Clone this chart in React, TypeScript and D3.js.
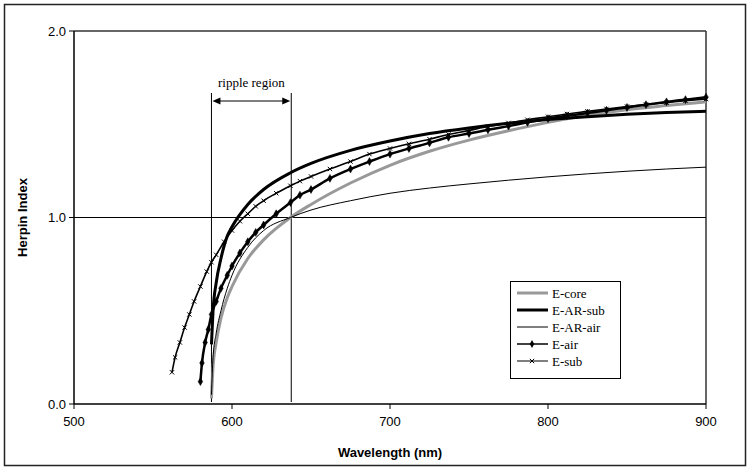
import React from 'react';
import * as d3 from 'd3';

const xTicks = [500, 600, 700, 800, 900];
const yTicks = [0, 1, 2];
const yTickLabels = ['0.0', '1.0', '2.0'];
const seriesNames = ['E-core', 'E-AR-sub', 'E-AR-air', 'E-air', 'E-sub'];

const gridWl = [587, 588, 590, 593, 597, 600, 610, 620, 637, 650, 675, 700, 725, 750, 775, 800, 825, 850, 875, 900];
const eCore = [0.03, 0.2, 0.33, 0.46, 0.57, 0.63, 0.78, 0.88, 1.0, 1.07, 1.185, 1.28, 1.355, 1.415, 1.465, 1.51, 1.548, 1.578, 1.6, 1.62];
const eArSub = [0.32, 0.5, 0.65, 0.78, 0.9, 0.95, 1.07, 1.15, 1.24, 1.29, 1.36, 1.41, 1.45, 1.48, 1.505, 1.525, 1.54, 1.553, 1.563, 1.57];
const eArAir = [0.05, 0.25, 0.38, 0.5, 0.62, 0.69, 0.84, 0.93, 1.0, 1.04, 1.09, 1.13, 1.158, 1.18, 1.2, 1.218, 1.234, 1.248, 1.26, 1.27];

const airWl = [580, 581, 583, 585, 587, 590, 593, 597, 600, 605, 610, 615, 620, 628, 637, 643, 650, 662, 675, 687, 700, 712, 725, 737, 750, 762, 775, 787, 800, 812, 825, 837, 850, 862, 875, 887, 900];
const eAir = [0.12, 0.22, 0.33, 0.4, 0.48, 0.55, 0.62, 0.69, 0.74, 0.81, 0.87, 0.92, 0.96, 1.02, 1.08, 1.12, 1.15, 1.21, 1.26, 1.3, 1.34, 1.37, 1.4, 1.43, 1.45, 1.47, 1.49, 1.51, 1.53, 1.545, 1.56, 1.575, 1.59, 1.605, 1.62, 1.632, 1.645];

const subWl = [562, 564, 567, 570, 573, 576, 580, 584, 587, 590, 595, 600, 605, 610, 615, 620, 628, 637, 643, 650, 662, 675, 687, 700, 712, 725, 737, 750, 762, 775, 787, 800, 812, 825, 837, 850, 862, 875, 887, 900];
const eSub = [0.17, 0.25, 0.33, 0.41, 0.48, 0.55, 0.63, 0.71, 0.76, 0.8, 0.87, 0.93, 0.98, 1.02, 1.06, 1.09, 1.13, 1.17, 1.195, 1.22, 1.26, 1.3, 1.34, 1.37, 1.395, 1.42, 1.445, 1.467, 1.488, 1.507, 1.524, 1.54, 1.555, 1.569, 1.582, 1.595, 1.606, 1.616, 1.626, 1.635];

const rippleStart = 587;
const rippleEnd = 637.5;

const SANS = "'Liberation Sans', Arial, sans-serif";
const SERIF = "'Liberation Serif', 'Times New Roman', serif";

export default function App() {
  const W = 750, H = 470;
  const left = 74, right = 706, top = 31, bottom = 404;
  const x = d3.scaleLinear().domain([500, 900]).range([left, right]);
  const y = d3.scaleLinear().domain([0, 2]).range([bottom, top]);
  const line = d3.line<[number, number]>().x(d => x(d[0])).y(d => y(d[1])).curve(d3.curveMonotoneX);
  const zip = (a: number[], b: number[]) => a.map((v, i) => [v, b[i]] as [number, number]);

  const core = zip(gridWl, eCore);
  const arSub = zip(gridWl, eArSub);
  const arAir = zip(gridWl, eArAir);
  const air = zip(airWl, eAir);
  const sub = zip(subWl, eSub);

  const diamond = d3.symbol().type(d3.symbolDiamond).size(18)() as string;
  const cross = d3.symbol().type(d3.symbolX).size(14)() as string;

  const legX = 510, legY = 281, legW = 110, legH = 97;
  const legStyles = [
    { stroke: '#999', w: 3, marker: '' },
    { stroke: '#000', w: 3, marker: '' },
    { stroke: '#000', w: 1, marker: '' },
    { stroke: '#000', w: 1.5, marker: 'd' },
    { stroke: '#000', w: 1, marker: 'x' },
  ];

  return (
    <svg width={W} height={H} style={{ position: 'absolute', left: 0, top: 0, background: '#fff' }}>
      <rect x={4.5} y={4.5} width={741} height={461} fill="#fff" stroke="#222" strokeWidth={1.5} />
      {/* plot frame */}
      <line x1={left} x2={right} y1={top} y2={top} stroke="#333" strokeWidth={1.5} />
      <line x1={right} x2={right} y1={top} y2={bottom} stroke="#333" strokeWidth={1.5} />
      {/* gridline at 1.0 */}
      <line x1={left} x2={right} y1={y(1)} y2={y(1)} stroke="#000" strokeWidth={1} />
      {/* axes */}
      <line x1={left} x2={right} y1={bottom} y2={bottom} stroke="#000" strokeWidth={1.5} />
      <line x1={left} x2={left} y1={top} y2={bottom} stroke="#000" strokeWidth={1.5} />
      {yTicks.map((t, i) => (
        <g key={'y' + t}>
          <line x1={left - 5} x2={left} y1={y(t)} y2={y(t)} stroke="#000" />
          <text x={left - 8} y={y(t) + 4.5} textAnchor="end" fontFamily={SANS} fontSize={13}>{yTickLabels[i]}</text>
        </g>
      ))}
      {xTicks.map(t => (
        <g key={'x' + t}>
          <line x1={x(t)} x2={x(t)} y1={bottom} y2={bottom + 5} stroke="#000" />
          <text x={x(t)} y={bottom + 22} textAnchor="middle" fontFamily={SANS} fontSize={13}>{t}</text>
        </g>
      ))}
      <text x={(left + right) / 2} y={457} textAnchor="middle" fontFamily={SANS} fontSize={13} fontWeight="bold">Wavelength (nm)</text>
      <text transform={`translate(27,${(top + bottom) / 2}) rotate(-90)`} textAnchor="middle" fontFamily={SANS} fontSize={13} fontWeight="bold">Herpin Index</text>

      {/* ripple region */}
      <line x1={x(rippleStart)} x2={x(rippleStart)} y1={93} y2={bottom - 2} stroke="#000" strokeWidth={1} />
      <line x1={x(rippleEnd)} x2={x(rippleEnd)} y1={93} y2={bottom - 2} stroke="#000" strokeWidth={1} />
      <line x1={x(rippleStart) + 6} x2={x(rippleEnd) - 6} y1={101} y2={101} stroke="#000" strokeWidth={1.2} />
      <path d={`M${x(rippleStart) + 1},101 L${x(rippleStart) + 9},97.5 L${x(rippleStart) + 9},104.5 Z`} fill="#000" />
      <path d={`M${x(rippleEnd) - 1},101 L${x(rippleEnd) - 9},97.5 L${x(rippleEnd) - 9},104.5 Z`} fill="#000" />
      <text x={(x(rippleStart) + x(rippleEnd)) / 2} y={87} textAnchor="middle" fontFamily={SERIF} fontSize={13}>ripple region</text>

      {/* series */}
      <path d={line(core) || ''} fill="none" stroke="#999" strokeWidth={3} />
      <path d={line(arAir) || ''} fill="none" stroke="#000" strokeWidth={1} />
      <path d={line(arSub) || ''} fill="none" stroke="#000" strokeWidth={3} />
      <path d={line(air) || ''} fill="none" stroke="#000" strokeWidth={2.5} />
      {air.map((d, i) => (
        <path key={'a' + i} d={diamond} transform={`translate(${x(d[0])},${y(d[1])})`} fill="#000" stroke="#000" strokeWidth={0.5} />
      ))}
      <path d={line(sub) || ''} fill="none" stroke="#000" strokeWidth={1.6} />
      {sub.map((d, i) => (
        <path key={'s' + i} d={cross} transform={`translate(${x(d[0])},${y(d[1])})`} fill="none" stroke="#000" strokeWidth={1} />
      ))}

      {/* legend */}
      <rect x={legX + 0.5} y={legY + 0.5} width={legW} height={legH} fill="#fff" stroke="#000" strokeWidth={1} />
      {seriesNames.map((n, i) => {
        const yy = legY + 12 + i * 17;
        const s = legStyles[i];
        return (
          <g key={n}>
            <line x1={legX + 7} x2={legX + 38} y1={yy} y2={yy} stroke={s.stroke} strokeWidth={s.w} />
            {s.marker === 'd' && <path d={diamond} transform={`translate(${legX + 22},${yy})`} fill="#000" />}
            {s.marker === 'x' && <path d={cross} transform={`translate(${legX + 22},${yy})`} fill="none" stroke="#000" strokeWidth={1} />}
            <text x={legX + 42} y={yy + 4.5} fontFamily={SERIF} fontSize={13}>{n}</text>
          </g>
        );
      })}
    </svg>
  );
}
